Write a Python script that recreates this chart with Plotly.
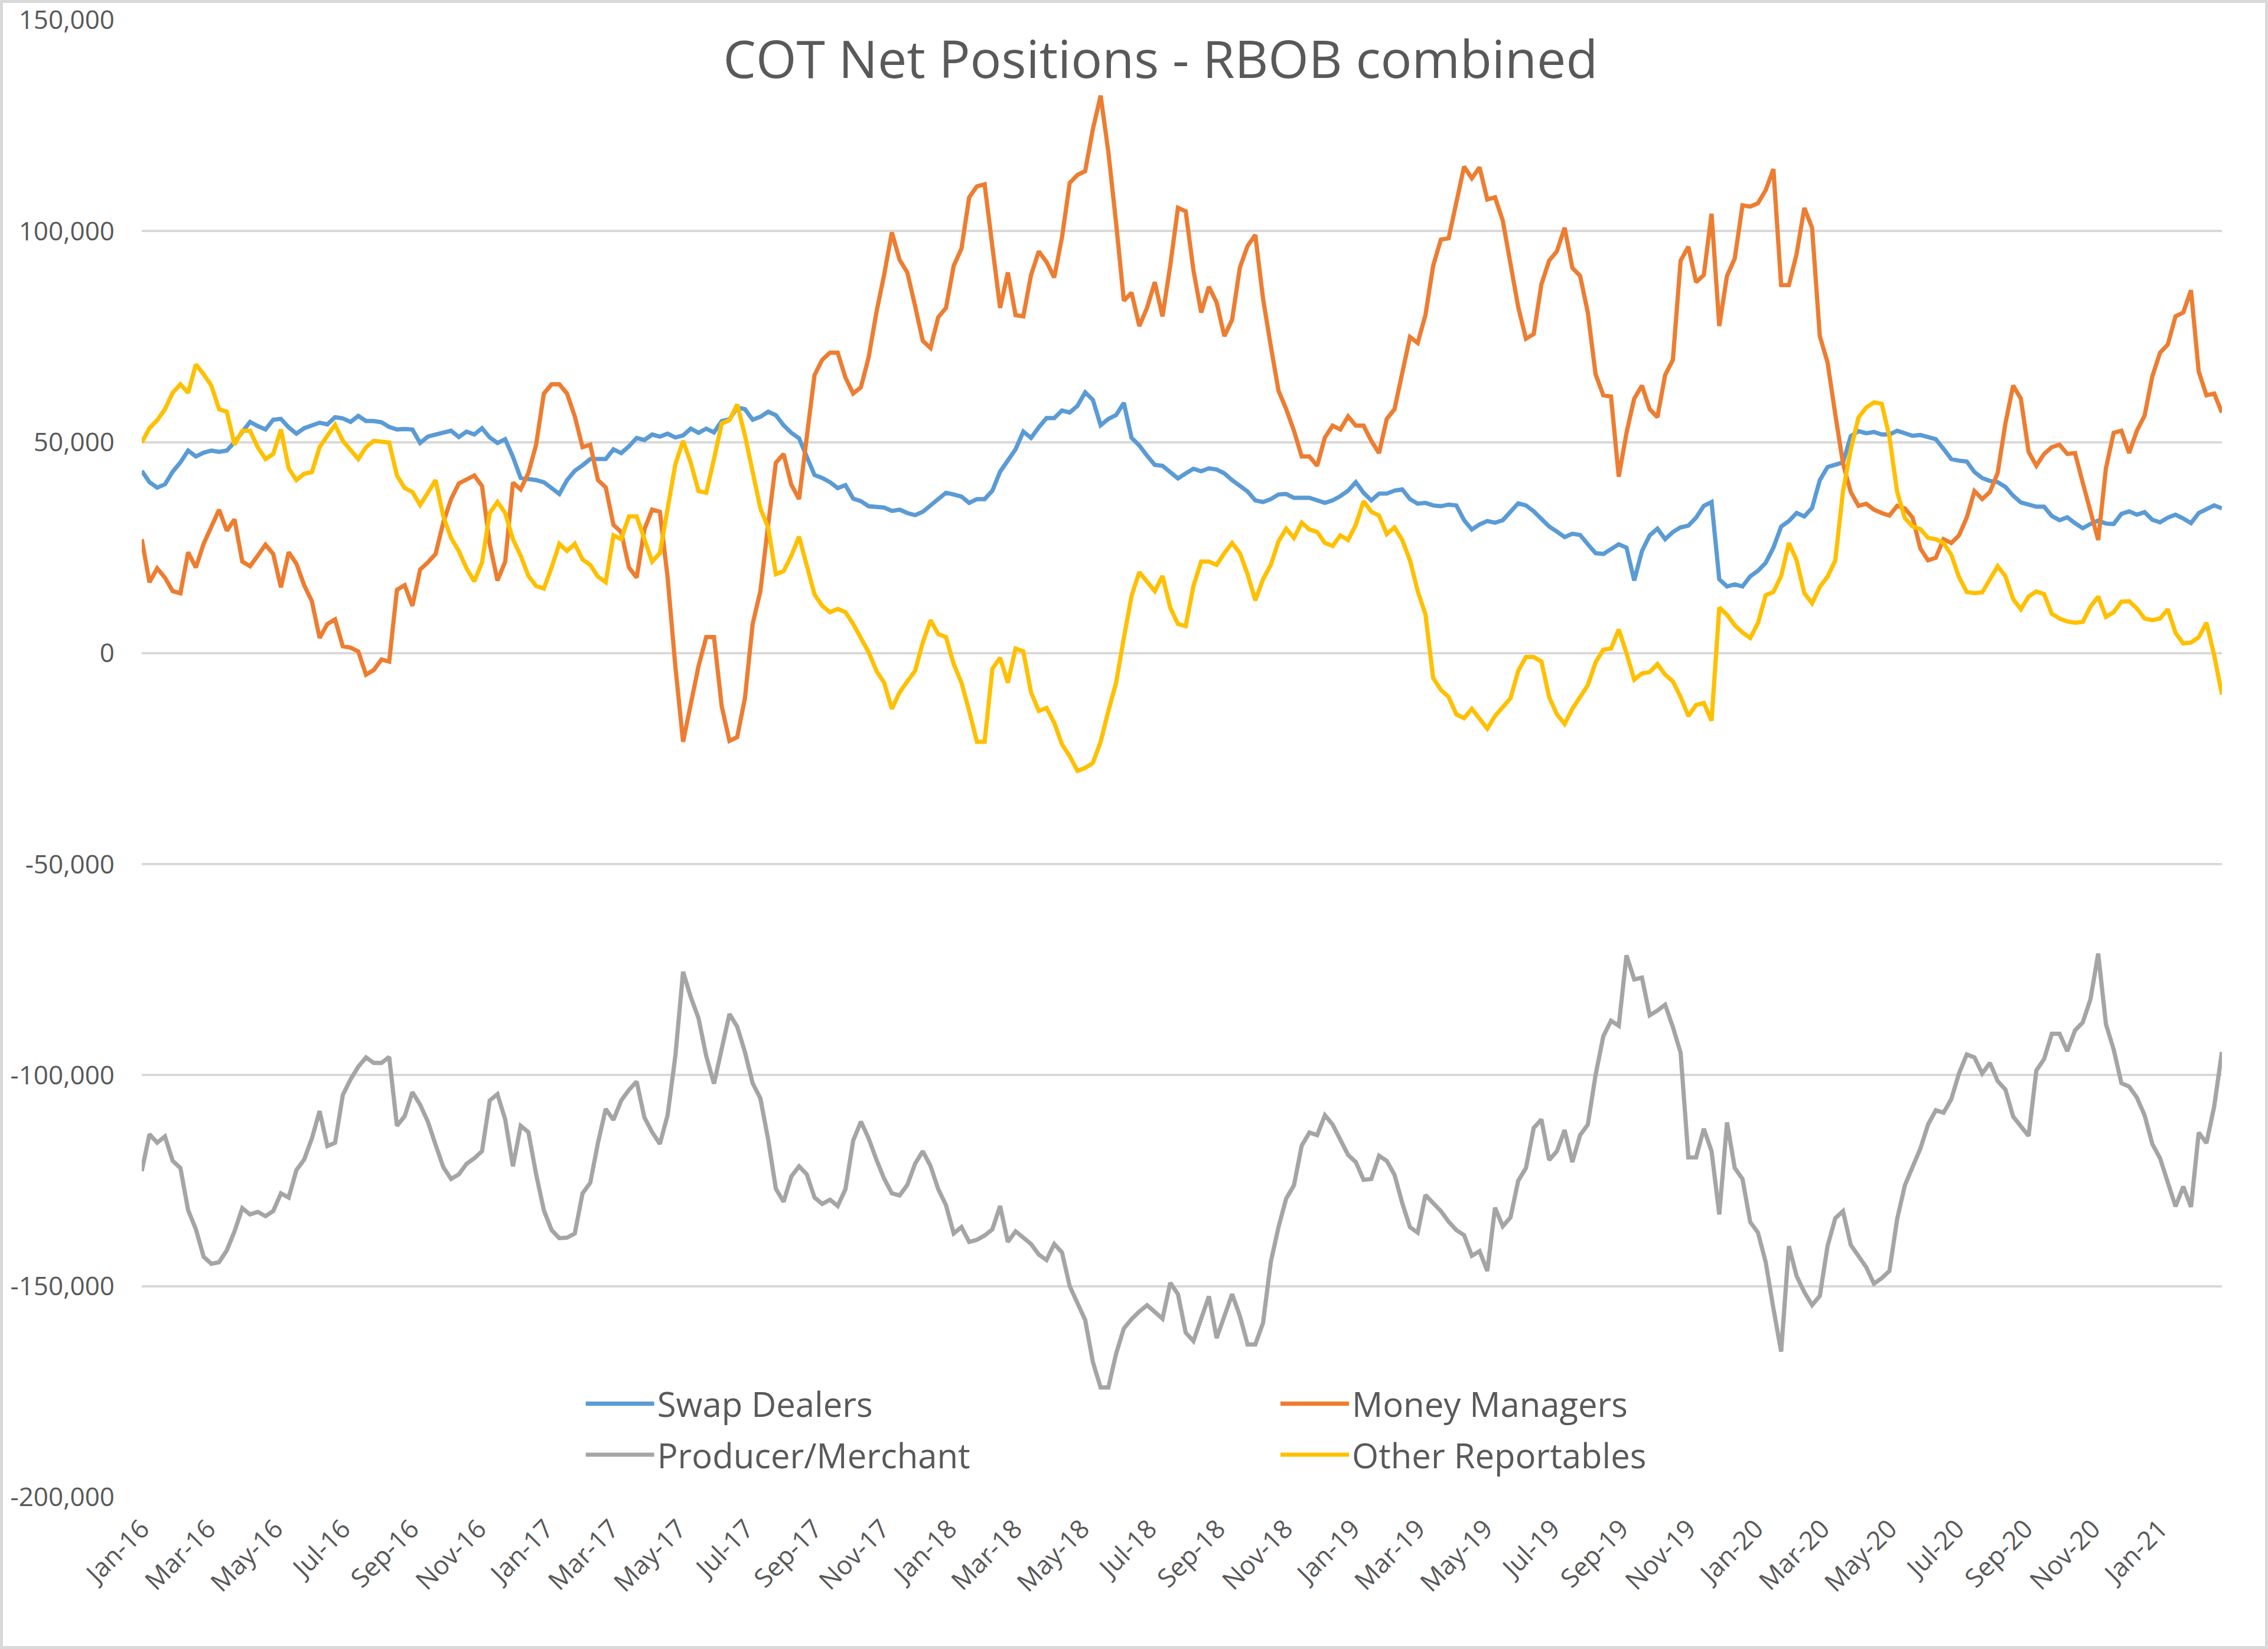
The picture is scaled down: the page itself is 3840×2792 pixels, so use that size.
import sys
import pandas as pd
import plotly.graph_objects as go

# ---------------- data (thousands of contracts, weekly) ----------------
start_date = "2016-01-05"
n_weeks = 270

swap_dealers_k = [
    43.2, 40.5, 39.2, 40.0, 43.0, 45.2, 48.0, 46.6, 47.5, 48.0,
    47.7, 48.0, 50.0, 52.5, 54.8, 53.8, 53.0, 55.3, 55.5, 53.5,
    52.0, 53.3, 53.9, 54.6, 54.2, 55.9, 55.6, 54.8, 56.2, 55.0,
    55.0, 54.7, 53.6, 53.0, 53.1, 53.0, 49.8, 51.3, 51.8, 52.3,
    52.7, 51.2, 52.5, 51.8, 53.3, 51.1, 49.8, 50.7, 46.5, 41.5,
    41.3, 41.0, 40.5, 39.1, 37.7, 41.0, 43.2, 44.5, 46.0, 46.0,
    46.0, 48.3, 47.4, 49.0, 51.0, 50.5, 51.8, 51.3, 52.0, 51.1,
    51.6, 53.2, 52.2, 53.2, 52.3, 55.0, 55.4, 58.2, 57.8, 55.3,
    56.0, 57.2, 56.4, 54.0, 52.2, 50.9, 46.5, 42.2, 41.5, 40.5,
    39.1, 39.8, 36.6, 36.0, 34.8, 34.6, 34.5, 33.7, 34.0, 33.2,
    32.7, 33.5, 35.0, 36.5, 38.0, 37.6, 37.1, 35.6, 36.5, 36.5,
    38.5, 43.0, 45.8, 48.3, 52.5, 51.0, 53.5, 55.7, 55.7, 57.5,
    57.0, 58.6, 61.8, 60.0, 54.0, 55.5, 56.4, 59.3, 51.0, 49.2,
    46.8, 44.6, 44.4, 42.8, 41.4, 42.6, 43.7, 43.1, 43.8,
    43.5, 42.6, 41.0, 39.8, 38.3, 36.2, 35.8, 36.5, 37.6, 37.7,
    36.8, 36.8, 36.8, 36.2, 35.6, 36.2, 37.2, 38.5, 40.5, 38.0,
    36.2, 37.8, 37.8, 38.5, 38.8, 36.5, 35.4, 35.6, 35.0, 34.8,
    35.2, 35.0, 31.5, 29.3, 30.5, 31.3, 30.9, 31.5, 33.5, 35.5,
    35.0, 33.6, 31.8, 30.0, 28.8, 27.5, 28.3, 28.0, 25.8, 23.7,
    23.5, 24.8, 25.8, 25.0,
    17.2, 24.2, 27.9, 29.5, 27.0, 28.7, 29.8, 30.2, 32.1, 34.9, 35.8,
    17.5, 15.8, 16.3, 15.8, 18.2, 19.5, 21.4, 25.0, 30.0, 31.3,
    33.2, 32.4, 34.4, 41.0, 44.1, 44.6, 45.2, 51.4, 52.6, 52.1,
    52.4, 51.8, 51.8, 52.7, 52.2, 51.5, 51.7, 51.2, 50.7, 48.4,
    46.0, 45.6, 45.4, 42.9, 41.5, 40.8, 40.5, 39.4, 37.3, 35.7,
    35.2, 34.7, 34.7, 32.5, 31.5, 32.2, 30.8, 29.6, 30.6, 31.4,
    30.7, 30.6, 33.0, 33.6, 32.8, 33.4, 31.6, 31.0, 32.1, 32.8,
    31.9, 30.8, 33.2, 34.2, 35.0, 34.3,
]

money_managers_k = [
    27.0, 16.8, 20.1, 17.9, 14.7, 14.2, 23.9, 20.3, 25.9, 30.2,
    34.0, 29.0, 31.7, 21.7, 20.6, 23.1, 25.7, 23.5, 15.6, 23.9,
    21.2, 16.1, 12.3, 3.6, 6.9, 8.0, 1.6, 1.3, 0.4, -5.1,
    -4.0, -1.5, -2.0, 15.0, 16.1, 11.2, 19.8, 21.5, 23.5, 31.0,
    36.5, 40.2, 41.2, 42.1, 39.6, 25.9, 17.2, 21.7, 40.4, 38.8,
    42.7, 49.4, 61.5, 63.7, 63.7, 61.5, 56.1, 48.8, 49.4, 41.0,
    39.3, 30.4, 28.7, 20.3, 17.9, 29.3,
    34.0, 33.5, 18.0, -3.1,
    -21.0, -12.6, -3.1, 3.8, 3.8, -12.6, -20.8, -19.9, -10.7, 6.9,
    14.7, 30.4, 45.1, 47.2, 39.9, 36.5, 50.5, 65.9, 69.5, 71.2,
    71.2, 65.3, 61.5, 63.0, 70.1, 80.7, 89.6, 99.7, 93.2, 90.2,
    82.3, 74.0, 72.3, 79.6, 81.8, 91.8, 95.8, 108.0, 110.6, 111.1,
    96.3, 81.8, 90.2, 80.1, 79.8, 89.6, 95.2, 92.7, 89.0, 98.5,
    111.4, 113.3, 114.2, 124.2, 132.1, 118.7, 101.9, 83.5, 85.4, 77.5,
    81.8, 87.9, 79.8, 91.8, 105.5, 104.7, 90.7, 80.7,
    86.8, 83.1, 75.1, 79.0, 91.3, 96.5, 99.1, 84.0, 72.8, 62.2,
    57.8, 52.7, 46.6, 46.6, 44.4, 51.1, 53.9, 53.0, 56.1, 53.9,
    53.9, 50.3, 47.4, 55.5, 57.8, 66.1, 74.9, 73.5, 80.1, 91.8,
    98.0, 98.3, 106.9, 115.3, 112.5, 115.1, 107.5, 108.0, 102.5, 92.4,
    82.0, 74.5, 75.6, 87.4, 93.0, 95.2, 100.8, 91.3, 89.4, 80.7,
    66.1, 61.1, 60.8, 41.8, 52.2, 60.3, 63.4, 57.8, 55.9, 65.9,
    69.5, 93.0, 96.3, 87.9, 89.6, 104.1,
    77.5, 89.4, 93.5, 106.1, 105.8, 106.6, 109.7, 114.7, 87.2, 87.2,
    94.6, 105.5, 100.8, 75.1, 68.9, 56.6, 44.9, 38.2, 34.9, 35.4,
    34.0, 33.2, 32.6, 34.9, 34.3, 32.1, 24.8, 22.0, 22.6, 27.0,
    26.1, 27.9, 32.1, 38.4, 36.5, 38.2, 42.7, 54.4, 63.4, 60.3,
    47.7, 44.4, 47.2, 48.8, 49.4, 47.2, 47.4, 40.4, 33.7, 26.8,
    43.8, 52.2, 52.7, 47.4, 52.7, 56.3, 65.6, 71.2, 73.1, 79.8,
    80.7, 86.0, 66.7, 61.1, 61.5, 57.0,
]

producer_merchant_k = [
    -122.7, -114.0, -116.0, -114.5, -120.3, -122.0, -132.0, -136.5, -143.0, -144.7,
    -144.3, -141.5, -137.0, -131.5, -133.0, -132.4, -133.4, -132.2, -128.0, -129.0,
    -122.5, -120.0, -115.0, -108.5, -116.8, -116.0, -104.7, -101.0, -98.0, -95.8,
    -97.1, -97.1, -95.7, -112.0, -109.7, -104.0, -107.0, -111.0, -116.5, -121.8,
    -124.6, -123.5, -121.0, -119.7, -118.0, -106.0, -104.5, -110.5, -121.6, -112.0,
    -113.5, -123.5, -132.0, -136.7, -138.6, -138.5, -137.5, -128.0, -125.5, -116.0,
    -108.0, -110.6, -106.0, -103.5, -101.5, -110.0, -113.5, -116.3, -109.5, -95.5,
    -75.5, -81.5, -86.5, -95.5, -102.0, -93.8, -85.5, -88.5, -94.5, -101.9,
    -105.5, -115.2, -126.9, -130.0, -124.0, -121.6, -123.5, -129.0, -130.5, -129.5,
    -131.0, -127.0, -115.5, -111.0, -115.0, -120.0, -124.5, -128.0, -128.5, -126.0,
    -121.0, -118.0, -121.5, -127.0, -130.8, -137.5, -136.0, -139.5, -139.0, -138.0,
    -136.5, -131.0, -139.5, -137.0, -138.5, -140.0, -142.5, -143.8, -140.0, -142.0,
    -150.0, -154.0, -158.0, -168.0, -174.0, -174.0, -166.0, -160.0, -157.8, -156.0, -154.5,
    -156.1, -157.7, -149.2, -151.9, -161.0, -163.0, -157.7, -152.4, -162.3, -157.4,
    -151.9, -157.0, -163.8, -163.8, -158.7, -144.3, -136.0, -129.2, -126.1, -116.7,
    -113.6, -114.2, -109.5, -111.7, -115.5, -118.9, -120.6, -124.8, -124.6, -119.1,
    -120.3, -123.6, -130.3, -136.0, -137.3, -128.4, -130.3, -132.2, -134.7, -136.7,
    -137.9, -142.8, -141.7, -146.4, -131.4, -135.8, -133.7, -125.0, -122.0, -112.5,
    -110.5, -120.1, -118.0, -113.0, -120.6, -114.2, -111.7, -100.0, -90.8, -87.1,
    -88.3, -71.6, -77.3, -76.9, -85.8, -84.7, -83.3, -88.6, -94.7, -119.5,
    -119.5, -112.7, -118.0, -133.0, -111.2, -122.0, -124.6, -134.8, -137.3, -144.3,
    -155.3, -165.5, -140.5, -147.6, -151.4, -154.5, -152.3, -140.5, -133.9, -132.2,
    -140.2, -143.0, -145.5, -149.4, -148.1, -146.4, -134.1, -126.1, -122.0, -117.4,
    -111.7, -108.3, -108.9, -105.7, -99.6, -95.1, -95.8, -99.6, -97.1, -101.4,
    -103.4, -109.8, -112.1, -114.4, -98.9, -96.2, -90.2, -90.2, -94.3, -89.4,
    -87.5, -82.0, -71.2, -87.9, -93.9, -101.9, -102.7, -105.3, -109.5, -116.3,
    -119.7, -125.4, -131.1, -126.4, -131.2, -113.6, -116.1, -107.4, -94.5,
]

other_reportables_k = [
    49.9, 53.3, 55.2, 57.8, 61.7, 63.7, 61.7, 68.4, 66.1, 63.4,
    57.8, 57.2, 49.4, 52.7, 52.7, 48.8, 46.0, 47.2, 53.0, 43.8,
    41.0, 42.5, 42.9, 48.8, 51.5, 54.1, 50.3, 48.3, 46.0, 48.8,
    50.3, 50.1, 49.9, 42.1, 39.1, 38.2, 35.1, 38.0, 41.0, 32.4,
    27.3, 24.2, 20.1, 17.0, 21.5, 33.2, 35.8, 33.2, 27.0, 23.1,
    18.3, 15.9, 15.3, 20.3, 25.9, 24.2, 25.9, 22.2, 20.9, 18.1,
    16.8, 27.9, 27.0, 32.4, 32.4, 27.0,
    21.7, 23.7, 33.7, 44.7,
    50.3, 45.1, 38.4, 38.0, 46.0, 54.4, 55.2, 58.9, 51.6, 42.7,
    34.3, 29.8, 18.7, 19.4, 23.1, 27.6, 20.3, 13.9, 11.2, 9.7,
    10.5, 9.7, 6.9, 3.6, 0.2, -4.2, -7.0, -13.2, -9.3, -6.7,
    -4.2, 2.5, 7.8, 4.5, 3.8, -2.6, -7.0, -13.7, -21.0, -21.0,
    -3.7, -1.1, -7.0, 1.1, 0.4, -9.3, -13.7, -13.0, -16.5, -21.6,
    -24.4, -27.9, -27.2, -26.0, -21.0, -13.7, -7.0, 3.6, 13.6, 19.2,
    17.0, 14.7, 18.3, 10.8, 6.9, 6.4, 15.9, 21.7, 21.7,
    20.9, 23.7, 26.1, 23.7, 18.7, 12.5, 17.5, 20.9, 26.5, 29.5,
    27.3, 30.9, 29.3, 28.7, 26.1, 25.4, 27.9, 26.8, 30.4, 36.0,
    33.5, 32.6, 28.2, 29.8, 26.8, 22.0, 14.7, 9.2, -5.9, -8.7,
    -10.4, -14.5, -15.4, -13.2, -15.6, -17.9, -14.9, -12.6, -10.7, -4.2,
    -0.9, -0.9, -2.0, -10.4, -14.5, -16.8, -13.2, -10.4, -7.6, -2.2,
    0.8, 1.1, 5.6, 0.0, -6.3, -4.8, -4.5, -2.6, -5.1, -6.7,
    -10.4, -14.9, -12.3, -11.8, -16.0,
    10.8, 9.1, 6.6, 4.9, 3.6, 7.1, 13.7, 14.5, 18.3, 26.1,
    22.0, 14.2, 11.8, 15.7, 18.1, 22.0, 38.4, 48.2, 55.8, 58.2,
    59.4, 59.1, 51.3, 38.2, 32.0, 30.0, 29.4, 27.3, 27.0, 26.1,
    23.3, 18.0, 14.5, 14.2, 14.4, 17.4, 20.6, 18.2, 12.8, 10.4,
    13.4, 14.6, 14.0, 9.3, 8.2, 7.5, 7.2, 7.4, 11.0, 13.4,
    8.6, 9.7, 12.2, 12.3, 10.6, 8.2, 7.8, 8.2, 10.4, 4.8,
    2.3, 2.5, 3.8, 7.2, -0.5, -9.8,
]

y_tick_vals = [-200000, -150000, -100000, -50000, 0, 50000, 100000, 150000]
y_tick_text = ["-200,000", "-150,000", "-100,000", "-50,000", "0", "50,000", "100,000", "150,000"]

series_names = ["Swap Dealers", "Money Managers", "Producer/Merchant", "Other Reportables"]
series_values = [swap_dealers_k, money_managers_k, producer_merchant_k, other_reportables_k]
series_colors = ["#5B9BD5", "#ED7D31", "#A5A5A5", "#FFC000"]
series_legends = ["legend", "legend2", "legend", "legend2"]

for nm, vals in zip(series_names, series_values):
    print(nm, len(vals), file=sys.stderr)

dates = pd.date_range(start_date, periods=n_weeks, freq="7D")

# ---------------- figure ----------------
W, H = 3840, 2792
ML, MR, MT, MB = 240, 78, 34, 257
FONT = "Open Sans"
TEXT = "#595959"

fig = go.Figure()
for nm, vals, col, lg in zip(series_names, series_values, series_colors, series_legends):
    n = min(len(vals), len(dates))
    fig.add_trace(go.Scatter(
        x=dates[:n], y=[v * 1000 for v in vals[:n]], name=nm, mode="lines",
        line=dict(color=col, width=7.2), legend=lg, legendgroup=nm,
        hoverinfo="skip",
    ))

pw = W - ML - MR
ph = H - MT - MB
bw = 5
fig.add_shape(type="rect", xref="paper", yref="paper",
              x0=(bw / 2 - ML) / pw, x1=(W - bw / 2 - ML) / pw,
              y0=-(MB - bw / 2) / ph, y1=1 + (MT - bw / 2) / ph,
              line=dict(color="#D9D9D9", width=bw), fillcolor="rgba(0,0,0,0)", layer="below")

fig.update_layout(
    width=W, height=H,
    margin=dict(l=ML, r=MR, t=MT, b=MB, pad=0),
    paper_bgcolor="white", plot_bgcolor="white",
    font=dict(family=FONT, color=TEXT, size=44),
    title=dict(text="COT Net Positions - RBOB combined", x=0.5117, xref="container", xanchor="center",
               y=1 - 101 / H, yref="container", yanchor="middle",
               font=dict(family=FONT, size=88, color=TEXT)),
    legend=dict(x=0.212, y=0.081, xanchor="left", yanchor="top", orientation="v",
                font=dict(family=FONT, size=58, color=TEXT), bgcolor="rgba(0,0,0,0)",
                itemwidth=116, tracegroupgap=8),
    legend2=dict(x=0.546, y=0.081, xanchor="left", yanchor="top", orientation="v",
                 font=dict(family=FONT, size=58, color=TEXT), bgcolor="rgba(0,0,0,0)",
                 itemwidth=116, tracegroupgap=8),
    showlegend=True,
)

fig.update_xaxes(
    type="date", range=[dates[0], dates[-1]], tickformat="%b-%y", tick0=start_date, dtick="M2",
    tickangle=-45, showgrid=False, zeroline=False, showline=False, ticks="",
    tickfont=dict(family=FONT, size=44, color=TEXT), automargin=False, ticklabelstandoff=18,
)
fig.update_yaxes(
    range=[-200000, 150000], tickvals=y_tick_vals, ticktext=y_tick_text,
    showgrid=True, gridcolor="#D9D9D9", gridwidth=4, zeroline=False, showline=False, ticks="",
    tickfont=dict(family=FONT, size=44, color=TEXT), automargin=False, ticklabelstandoff=45,
)

fig.write_html("out.html", config={"displayModeBar": False},
               post_script="document.body.style.margin='0';document.body.style.overflow='hidden';")
